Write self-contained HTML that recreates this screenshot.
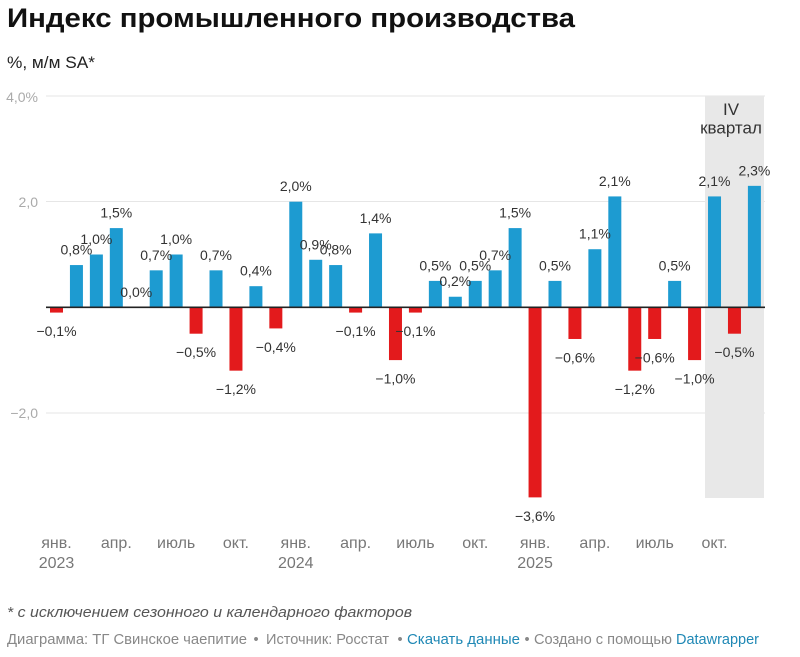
<!DOCTYPE html>
<html><head><meta charset="utf-8"><style>
html,body{margin:0;padding:0;background:#fff;}
svg{display:block;font-family:"Liberation Sans","Noto Sans CJK SC",sans-serif;}
.bl{font-size:14px;fill:#333;text-anchor:middle;}
.yl{font-size:14px;fill:#aaa;text-anchor:end;}
.xl{font-size:16px;fill:#777;text-anchor:middle;}
.b{fill:#1d9bd1;}
.r{fill:#e31a1c;}
</style></head><body>
<svg width="800" height="657" viewBox="0 0 800 657" xmlns="http://www.w3.org/2000/svg">
<text x="7" y="27" font-size="27" font-weight="bold" fill="#111" textLength="568" lengthAdjust="spacingAndGlyphs">Индекс промышленного производства</text>
<text x="7" y="68" font-size="16.5" fill="#222" textLength="88" lengthAdjust="spacingAndGlyphs">%, м/м SA*</text>

<!-- gridlines -->
<g stroke="#e6e6e6" stroke-width="1">
<line x1="46" y1="96" x2="765" y2="96"/>
<line x1="46" y1="201.5" x2="765" y2="201.5"/>
<line x1="46" y1="413" x2="765" y2="413"/>
</g>
<text class="yl" x="38" y="102">4,0%</text>
<text class="yl" x="38" y="207">2,0</text>
<text class="yl" x="38" y="418">−2,0</text>

<!-- Q4 shade -->
<rect x="705" y="96" width="59" height="402" fill="#e8e8e8"/>
<text x="731" y="115" font-size="17" fill="#333" text-anchor="middle">IV</text>
<text x="731" y="133.5" font-size="17" fill="#333" text-anchor="middle">квартал</text>

<!-- bars -->
<rect class="r" x="50" y="307.3" width="13" height="5.28"/>
<rect class="b" x="69.94" y="265.06" width="13" height="42.24"/>
<rect class="b" x="89.88" y="254.5" width="13" height="52.8"/>
<rect class="b" x="109.82" y="228.1" width="13" height="79.2"/>
<rect class="b" x="149.7" y="270.34" width="13" height="36.96"/>
<rect class="b" x="169.64" y="254.5" width="13" height="52.8"/>
<rect class="r" x="189.58" y="307.3" width="13" height="26.4"/>
<rect class="b" x="209.52" y="270.34" width="13" height="36.96"/>
<rect class="r" x="229.46" y="307.3" width="13" height="63.36"/>
<rect class="b" x="249.4" y="286.18" width="13" height="21.12"/>
<rect class="r" x="269.34" y="307.3" width="13" height="21.12"/>
<rect class="b" x="289.28" y="201.7" width="13" height="105.6"/>
<rect class="b" x="309.22" y="259.78" width="13" height="47.52"/>
<rect class="b" x="329.16" y="265.06" width="13" height="42.24"/>
<rect class="r" x="349.1" y="307.3" width="13" height="5.28"/>
<rect class="b" x="369.04" y="233.38" width="13" height="73.92"/>
<rect class="r" x="388.98" y="307.3" width="13" height="52.8"/>
<rect class="r" x="408.92" y="307.3" width="13" height="5.28"/>
<rect class="b" x="428.86" y="280.9" width="13" height="26.4"/>
<rect class="b" x="448.8" y="296.74" width="13" height="10.56"/>
<rect class="b" x="468.74" y="280.9" width="13" height="26.4"/>
<rect class="b" x="488.68" y="270.34" width="13" height="36.96"/>
<rect class="b" x="508.62" y="228.1" width="13" height="79.2"/>
<rect class="r" x="528.56" y="307.3" width="13" height="190.08"/>
<rect class="b" x="548.5" y="280.9" width="13" height="26.4"/>
<rect class="r" x="568.44" y="307.3" width="13" height="31.68"/>
<rect class="b" x="588.38" y="249.22" width="13" height="58.08"/>
<rect class="b" x="608.32" y="196.42" width="13" height="110.88"/>
<rect class="r" x="628.26" y="307.3" width="13" height="63.36"/>
<rect class="r" x="648.2" y="307.3" width="13" height="31.68"/>
<rect class="b" x="668.14" y="280.9" width="13" height="26.4"/>
<rect class="r" x="688.08" y="307.3" width="13" height="52.8"/>
<rect class="b" x="708.02" y="196.42" width="13" height="110.88"/>
<rect class="r" x="727.96" y="307.3" width="13" height="26.4"/>
<rect class="b" x="747.9" y="185.86" width="13" height="121.44"/>

<!-- zero line -->
<line x1="46" y1="307.3" x2="765" y2="307.3" stroke="#222" stroke-width="1.6"/>

<!-- bar labels -->
<text class="bl" x="56.5" y="336.1">−0,1%</text>
<text class="bl" x="76.44" y="254.6">0,8%</text>
<text class="bl" x="96.38" y="244">1,0%</text>
<text class="bl" x="116.32" y="217.6">1,5%</text>
<text class="bl" x="136.26" y="296.8">0,0%</text>
<text class="bl" x="156.2" y="259.8">0,7%</text>
<text class="bl" x="176.14" y="244">1,0%</text>
<text class="bl" x="196.08" y="357.2">−0,5%</text>
<text class="bl" x="216.02" y="259.8">0,7%</text>
<text class="bl" x="235.96" y="394.2">−1,2%</text>
<text class="bl" x="255.9" y="275.7">0,4%</text>
<text class="bl" x="275.84" y="351.9">−0,4%</text>
<text class="bl" x="295.78" y="191.2">2,0%</text>
<text class="bl" x="315.72" y="249.3">0,9%</text>
<text class="bl" x="335.66" y="254.6">0,8%</text>
<text class="bl" x="355.6" y="336.1">−0,1%</text>
<text class="bl" x="375.54" y="222.9">1,4%</text>
<text class="bl" x="395.48" y="383.6">−1,0%</text>
<text class="bl" x="415.42" y="336.1">−0,1%</text>
<text class="bl" x="435.36" y="270.4">0,5%</text>
<text class="bl" x="455.3" y="286.2">0,2%</text>
<text class="bl" x="475.24" y="270.4">0,5%</text>
<text class="bl" x="495.18" y="259.8">0,7%</text>
<text class="bl" x="515.12" y="217.6">1,5%</text>
<text class="bl" x="535.06" y="520.9">−3,6%</text>
<text class="bl" x="555" y="270.4">0,5%</text>
<text class="bl" x="574.94" y="362.5">−0,6%</text>
<text class="bl" x="594.88" y="238.7">1,1%</text>
<text class="bl" x="614.82" y="185.9">2,1%</text>
<text class="bl" x="634.76" y="394.2">−1,2%</text>
<text class="bl" x="654.7" y="362.5">−0,6%</text>
<text class="bl" x="674.64" y="270.4">0,5%</text>
<text class="bl" x="694.58" y="383.6">−1,0%</text>
<text class="bl" x="714.52" y="185.9">2,1%</text>
<text class="bl" x="734.46" y="357.2">−0,5%</text>
<text class="bl" x="754.4" y="175.4">2,3%</text>

<!-- x axis labels -->
<text class="xl" x="56.5" y="548">янв.</text>
<text class="xl" x="56.5" y="568">2023</text>
<text class="xl" x="116.32" y="548">апр.</text>
<text class="xl" x="176.14" y="548">июль</text>
<text class="xl" x="235.96" y="548">окт.</text>
<text class="xl" x="295.78" y="548">янв.</text>
<text class="xl" x="295.78" y="568">2024</text>
<text class="xl" x="355.6" y="548">апр.</text>
<text class="xl" x="415.42" y="548">июль</text>
<text class="xl" x="475.24" y="548">окт.</text>
<text class="xl" x="535.06" y="548">янв.</text>
<text class="xl" x="535.06" y="568">2025</text>
<text class="xl" x="594.88" y="548">апр.</text>
<text class="xl" x="654.7" y="548">июль</text>
<text class="xl" x="714.52" y="548">окт.</text>

<!-- footer -->
<text x="7" y="617" font-size="15" font-style="italic" fill="#555" textLength="405" lengthAdjust="spacingAndGlyphs">* с исключением сезонного и календарного факторов</text>
<g font-size="14.5">
<text x="7" y="644" fill="#888" textLength="240" lengthAdjust="spacingAndGlyphs">Диаграмма: ТГ Свинское чаепитие</text>
<text x="256" y="644" fill="#888" text-anchor="middle">•</text>
<text x="266" y="644" fill="#888" textLength="123" lengthAdjust="spacingAndGlyphs">Источник: Росстат</text>
<text x="400" y="644" fill="#888" text-anchor="middle">•</text>
<text x="407" y="644" fill="#1f88b5" textLength="113" lengthAdjust="spacingAndGlyphs">Скачать данные</text>
<text x="527" y="644" fill="#888" text-anchor="middle">•</text>
<text x="534" y="644" fill="#888" textLength="138" lengthAdjust="spacingAndGlyphs">Создано с помощью</text>
<text x="676" y="644" fill="#1f88b5" textLength="83" lengthAdjust="spacingAndGlyphs">Datawrapper</text>
</g>
</svg>
</body></html>
